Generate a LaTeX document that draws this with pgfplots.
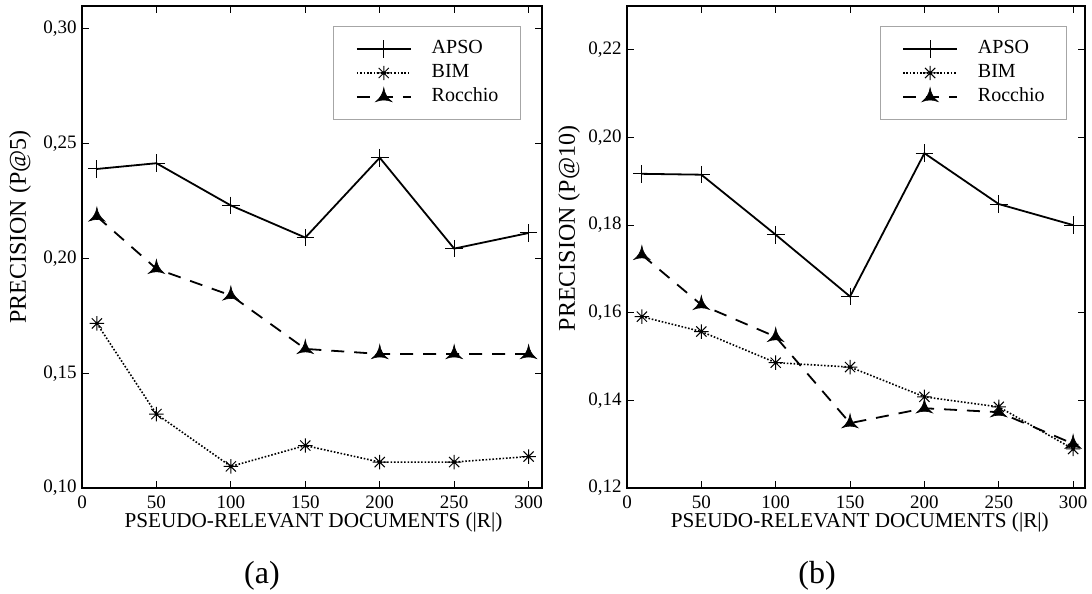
\documentclass[border=0pt]{standalone}
\usepackage{fontspec}
\setmainfont{Liberation Serif}
\usepackage{pgfplots}
\pgfplotsset{compat=1.18}

\pgfdeclareplotmark{tristar}{%
  \pgfpathmoveto{\pgfqpoint{0pt}{\pgfplotmarksize}}%
  \pgfpathquadraticcurveto{\pgfqpoint{-0.13\pgfplotmarksize}{0.075\pgfplotmarksize}}{\pgfqpoint{-0.866\pgfplotmarksize}{-0.5\pgfplotmarksize}}%
  \pgfpathquadraticcurveto{\pgfqpoint{0pt}{-0.15\pgfplotmarksize}}{\pgfqpoint{0.866\pgfplotmarksize}{-0.5\pgfplotmarksize}}%
  \pgfpathquadraticcurveto{\pgfqpoint{0.13\pgfplotmarksize}{0.075\pgfplotmarksize}}{\pgfqpoint{0pt}{\pgfplotmarksize}}%
  \pgfpathclose
  \pgfusepathqfillstroke
}
\pgfdeclareplotmark{ast8}{%
  \pgfpathmoveto{\pgfqpoint{-\pgfplotmarksize}{0pt}}\pgfpathlineto{\pgfqpoint{\pgfplotmarksize}{0pt}}%
  \pgfpathmoveto{\pgfqpoint{0pt}{-\pgfplotmarksize}}\pgfpathlineto{\pgfqpoint{0pt}{\pgfplotmarksize}}%
  \pgfpathmoveto{\pgfqpoint{-0.707\pgfplotmarksize}{-0.707\pgfplotmarksize}}\pgfpathlineto{\pgfqpoint{0.707\pgfplotmarksize}{0.707\pgfplotmarksize}}%
  \pgfpathmoveto{\pgfqpoint{-0.707\pgfplotmarksize}{0.707\pgfplotmarksize}}\pgfpathlineto{\pgfqpoint{0.707\pgfplotmarksize}{-0.707\pgfplotmarksize}}%
  \pgfusepathqstroke
  \pgfpathcircle{\pgfpointorigin}{0.8pt}\pgfusepathqfill
}

\pgfplotsset{
  myaxis/.style={
    scale only axis, height=241pt,
    xmin=0, xtick={0,50,...,300},
    axis line style={line width=0.7pt, black},
    tick align=inside, major tick length=3.5pt,
    tick style={line width=0.5pt, black},
    scaled y ticks=false, scaled x ticks=false,
    /pgf/number format/assume math mode=true,
    yticklabel style={/pgf/number format/fixed, /pgf/number format/fixed zerofill,
      /pgf/number format/precision=2, /pgf/number format/use comma},
    xticklabel style={anchor=base, yshift=-10.3pt, inner sep=0pt, font=\fontsize{9.5}{11}\selectfont},
    yticklabel style={anchor=east, xshift=-2.5pt, inner sep=0pt, font=\fontsize{9.5}{11}\selectfont},
    legend cell align=left,
    legend style={anchor=north east, draw=gray!70, line width=0.5pt, fill=white,
      inner xsep=11pt, inner ysep=5.25pt, row sep=0pt, column sep=10pt,
      font=\fontsize{10}{12}\selectfont,
      nodes={text height=7pt, text depth=2pt, inner ysep=1.5pt, inner xsep=0pt}},
    legend image code/.code={\draw[mark repeat=2,mark phase=2] plot coordinates {(0pt,0pt) (13.5pt,0pt) (27pt,0pt)};},
  },
  apso/.style={black, solid, line width=0.9pt, mark=+, mark size=4.4pt, mark options={solid, line width=0.5pt}},
  bim/.style={black, dash pattern=on 0.8pt off 0.9pt, line width=0.8pt, mark=ast8, mark size=3.6pt, mark options={solid, line width=0.5pt}},
  rocchio/.style={black, dash pattern=on 6.5pt off 5pt, line width=0.9pt, mark=tristar, mark size=4.6pt, mark options={solid, fill=black, line width=0.3pt}},
}

\begin{document}
\begin{tikzpicture}
\useasboundingbox (0,0) rectangle (546pt,297pt);

\begin{axis}[myaxis, at={(41pt,53pt)}, anchor=south west, width=230pt,
  xmax=309, ymin=0.10, ymax=0.31, ytick={0.10,0.15,0.20,0.25,0.30},
  legend style={at={(axis description cs:0.954,0.9585)}}]
\addplot[apso] coordinates {(10,0.2390) (50,0.2415) (100,0.2231) (150,0.2091) (200,0.2439) (250,0.2043) (300,0.2111)};
\addlegendentry{APSO}
\addplot[bim] coordinates {(10,0.1717) (50,0.1322) (100,0.1094) (150,0.1185) (200,0.1113) (250,0.1113) (300,0.1137)};
\addlegendentry{BIM}
\addplot[rocchio] coordinates {(10,0.2183) (50,0.1955) (100,0.1839) (150,0.1606) (200,0.1584) (250,0.1584) (300,0.1584)};
\addlegendentry{Rocchio}
\end{axis}

\begin{axis}[myaxis, at={(313.5pt,53pt)}, anchor=south west, width=229pt,
  xmax=308, ymin=0.12, ymax=0.23, ytick={0.12,0.14,0.16,0.18,0.20,0.22},
  legend style={at={(axis description cs:0.961,0.9585)}}]
\addplot[apso] coordinates {(10,0.1917) (50,0.1915) (100,0.1778) (150,0.1637) (200,0.1964) (250,0.1848) (300,0.1800)};
\addlegendentry{APSO}
\addplot[bim] coordinates {(10,0.1591) (50,0.1557) (100,0.1486) (150,0.1476) (200,0.1408) (250,0.1385) (300,0.1289)};
\addlegendentry{BIM}
\addplot[rocchio] coordinates {(10,0.1732) (50,0.1618) (100,0.1545) (150,0.1348) (200,0.1382) (250,0.1373) (300,0.1301)};
\addlegendentry{Rocchio}
\end{axis}

\node[rotate=90, inner sep=0pt, font=\fontsize{12}{14}\selectfont] at (10pt,183.5pt) {PRECISION (P@5)};
\node[rotate=90, inner sep=0pt, font=\fontsize{12}{14}\selectfont] at (284.5pt,182.75pt) {PRECISION (P@10)};
\node[anchor=base, inner sep=0pt, font=\fontsize{10.6}{12}\selectfont] at (156.75pt,33.2pt) {PSEUDO-RELEVANT DOCUMENTS (|R|)};
\node[anchor=base, inner sep=0pt, font=\fontsize{10.6}{12}\selectfont] at (429.9pt,33.2pt) {PSEUDO-RELEVANT DOCUMENTS (|R|)};
\node[anchor=base, inner sep=0pt, font=\fontsize{16}{18}\selectfont] at (131pt,5.35pt) {(a)};
\node[anchor=base, inner sep=0pt, font=\fontsize{16}{18}\selectfont] at (408.5pt,5.35pt) {(b)};
\end{tikzpicture}
\end{document}
